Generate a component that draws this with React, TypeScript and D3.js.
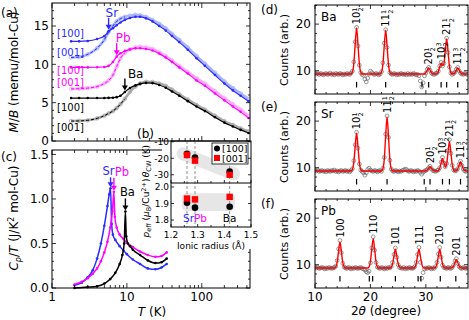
import React from 'react';
import * as d3 from 'd3';

const FONT = "'DejaVu Sans', sans-serif";
const BLUE = '#2b2bff';
const MAGENTA = '#ff00ff';

// (a) M/B vs T, H // [100] and [001]
const tempMB = [1.8, 2.3, 3, 4, 5, 5.7, 6.5, 7.3, 8.2, 9.4, 11, 13, 15, 18, 22, 27, 33, 40, 50, 65, 85, 110, 150, 200, 260, 330, 420];
const mbSr100 = [13.0, 13.0, 13.05, 13.3, 13.7, 14.3, 14.7, 15.1, 15.45, 15.8, 16.05, 16.2, 16.2, 16.0, 15.6, 15.0, 14.4, 13.7, 12.9, 11.9, 10.8, 9.8, 8.6, 7.5, 6.6, 5.9, 5.2];
const mbSr001 = [10.9, 10.95, 11.3, 12.1, 13.2, 14.2, 15.0, 15.6, 15.95, 16.2, 16.35, 16.45, 16.4, 16.2, 15.8, 15.3, 14.7, 14.0, 13.2, 12.2, 11.1, 10.1, 8.9, 7.8, 6.9, 6.2, 5.5];
const mbPb100 = [9.6, 9.6, 9.6, 9.62, 9.65, 9.8, 10.3, 11.0, 11.45, 11.75, 11.95, 12.1, 12.1, 12.0, 11.8, 11.4, 10.9, 10.3, 9.6, 8.8, 7.9, 7.2, 6.2, 5.3, 4.5, 3.8, 3.0];
const mbPb001 = [6.8, 6.82, 6.9, 7.1, 7.5, 7.9, 8.6, 9.7, 10.8, 11.5, 11.95, 12.2, 12.3, 12.2, 12.0, 11.6, 11.1, 10.5, 9.8, 9.0, 8.2, 7.5, 6.5, 5.6, 4.8, 4.1, 3.3];
const mbBa100 = [5.6, 5.6, 5.6, 5.6, 5.6, 5.62, 5.65, 5.72, 5.9, 6.4, 6.9, 7.25, 7.45, 7.58, 7.55, 7.3, 6.95, 6.45, 5.9, 5.2, 4.5, 3.9, 3.1, 2.4, 1.9, 1.45, 1.05];
const mbBa001 = [2.6, 2.62, 2.7, 2.95, 3.3, 3.6, 3.9, 4.3, 4.8, 5.5, 6.4, 7.1, 7.5, 7.72, 7.7, 7.5, 7.2, 6.7, 6.1, 5.4, 4.7, 4.1, 3.3, 2.6, 2.1, 1.65, 1.25];
const neelIndex = [5, 7, 9]; // Sr, Pb, Ba transition points in tempMB

// (c) Cp/T vs T
const cpSrT = [2, 2.5, 3, 3.5, 4, 4.5, 5, 5.5, 5.8, 6.05, 6.25, 6.5, 7, 8, 9, 10, 12, 15, 19, 24, 29, 34];
const cpSr = [0.03, 0.06, 0.12, 0.2, 0.33, 0.5, 0.7, 0.92, 1.05, 1.12, 0.72, 0.6, 0.54, 0.47, 0.42, 0.38, 0.32, 0.27, 0.22, 0.21, 0.23, 0.27];
const cpPbT = [2, 2.5, 3, 3.5, 4, 4.5, 5, 5.5, 6, 6.4, 6.7, 6.9, 7.3, 8, 9, 10, 12, 15, 19, 24, 29, 34];
const cpPb = [0.04, 0.07, 0.11, 0.16, 0.22, 0.3, 0.4, 0.52, 0.68, 0.86, 1.08, 0.8, 0.68, 0.6, 0.55, 0.51, 0.46, 0.41, 0.37, 0.35, 0.36, 0.4];
const cpBaT = [2, 3, 4, 5, 6, 7, 8, 8.7, 9.2, 9.55, 9.8, 10.3, 11, 12, 15, 19, 24, 29, 34];
const cpBa = [0.0, 0.01, 0.02, 0.05, 0.1, 0.17, 0.27, 0.37, 0.5, 0.86, 0.58, 0.5, 0.47, 0.43, 0.37, 0.31, 0.28, 0.29, 0.33];

// (b) inset
const ions = ['Sr', 'Pb', 'Ba'];
const ionicRadius = [1.26, 1.29, 1.42];
const thetaCW100 = [-17.3, -19.5, -28.1];
const thetaCW001 = [-18.0, -21.4, -30.0];
const peff100 = [1.905, 1.875, 1.88];
const peff001 = [1.93, 1.925, 1.94];

// (d)-(f) powder XRD, 2theta from 10 deg in 0.25 deg steps
const xrdBaObs = [
  9.5, 9.3, 9.4, 9.2, 9.4, 9.3, 9.1, 9.3, 9.4, 9.2, 9.3, 9.5, 9.2, 9.3, 9.1, 9.4, 9.3, 9.2, 9.4, 9.3, 9.1, 9.3, 9.2, 9.4, 9.3, 9.2, 9.5,
  9.9, 11.9, 16.2, 19.3, 15.3, 11.2, 9.6,
  9.2, 9.0, 8.2, 7.6, 8.4, 9.3, 9.9, 9.6, 9.3, 9.2, 9.4, 9.3, 9.1, 9.3,
  9.8, 11.7, 15.9, 18.8, 15.0, 11.2, 9.6,
  9.3, 9.2, 9.4, 9.3, 9.1, 9.3, 9.2, 9.4, 9.3, 9.2, 9.3, 9.1, 9.4, 9.2, 9.3, 9.2, 9.4, 9.3, 9.1, 9.2, 8.9, 7.8, 6.5, 7.4,
  8.9, 9.5, 10.3, 10.7, 10.1, 9.5, 9.3, 9.2, 9.4, 9.5, 9.9, 11.0, 11.8, 11.0, 11.6, 14.6, 17.0, 13.9, 10.8, 9.5, 9.2, 9.4, 9.7, 10.3, 10.7, 10.0, 9.5, 9.3,
  9.2, 9.4, 9.3, 9.2,
];
const xrdBaFit = [
  9.3, 9.3, 9.3, 9.3, 9.3, 9.3, 9.3, 9.3, 9.3, 9.3, 9.3, 9.3, 9.3, 9.3, 9.3, 9.3, 9.3, 9.3, 9.3, 9.3, 9.3, 9.3, 9.3, 9.3, 9.3, 9.3, 9.3,
  9.7, 11.5, 15.7, 19.2, 15.7, 11.5, 9.7,
  9.3, 9.3, 9.3, 9.3, 9.3, 9.3, 9.3, 9.3, 9.3, 9.3, 9.3, 9.3, 9.3, 9.3,
  9.7, 11.4, 15.4, 18.7, 15.4, 11.4, 9.7,
  9.3, 9.3, 9.3, 9.3, 9.3, 9.3, 9.3, 9.3, 9.3, 9.3, 9.3, 9.3, 9.3, 9.3, 9.3, 9.3, 9.3, 9.3, 9.3, 9.3, 9.3, 9.3, 9.3, 9.3,
  9.35, 9.6, 10.15, 10.6, 10.15, 9.6, 9.35, 9.3, 9.3, 9.4, 9.8, 10.8, 11.6, 11.1, 11.45, 14.3, 16.8, 14.2, 10.95, 9.6, 9.3, 9.35, 9.6, 10.15, 10.6, 10.15, 9.6, 9.35,
  9.3, 9.3, 9.3, 9.3,
];
const braggBa = [17.5, 22.75, 29.3, 30.5, 32.75, 33.75, 35.75];
const hklBa = ['10 1/2', '11 1/2', '20 1/2', '10 3/2', '21 1/2', '11 3/2'];
const hklBaAt = [17.5, 22.75, 30.5, 32.75, 33.75, 35.75];

const xrdSrObs = [
  9.4, 9.3, 9.5, 9.2, 9.3, 9.4, 9.2, 9.3, 9.1, 9.4, 9.3, 9.2, 9.4, 9.3, 9.5, 9.2, 9.3, 9.1, 9.3, 9.4, 9.2, 9.3, 9.4, 9.2, 9.3, 9.1, 9.4,
  9.8, 11.5, 14.9, 17.6, 14.2, 10.8, 9.5,
  9.2, 8.9, 8.4, 8.9, 9.6, 9.9, 9.5, 9.3, 9.2, 9.4, 9.3, 9.1, 9.3, 9.4, 9.2,
  9.9, 12.2, 17.2, 21.1, 16.5, 11.6, 9.7,
  9.3, 9.2, 9.4, 9.3, 9.1, 9.3, 9.2, 9.4, 9.5, 9.7, 9.6, 9.3, 9.2, 9.4, 9.3, 9.1, 9.3, 9.2, 9.4, 9.3, 9.0, 8.6, 9.0, 9.3,
  9.4, 9.6, 10.0, 10.3, 9.8, 9.4, 9.3,
  9.2, 9.4,
  9.5, 10.0, 11.2, 12.2, 11.0, 10.2, 10.9, 13.7, 16.0, 13.1, 10.5, 9.5,
  9.3,
  9.4, 9.8, 10.7, 11.4, 10.5, 9.7, 9.3,
  9.2, 9.4,
];
const xrdSrFit = [
  9.3, 9.3, 9.3, 9.3, 9.3, 9.3, 9.3, 9.3, 9.3, 9.3, 9.3, 9.3, 9.3, 9.3, 9.3, 9.3, 9.3, 9.3, 9.3, 9.3, 9.3, 9.3, 9.3, 9.3, 9.3, 9.3, 9.3,
  9.62, 11.08, 14.57, 17.4, 14.57, 11.08, 9.62,
  9.3, 9.3, 9.3, 9.3, 9.3, 9.3, 9.3, 9.3, 9.3, 9.3, 9.3, 9.3, 9.3, 9.3, 9.3,
  9.76, 11.85, 16.84, 20.9, 16.84, 11.85, 9.76,
  9.3, 9.3, 9.3, 9.3, 9.3, 9.3, 9.3, 9.3, 9.3, 9.3, 9.3, 9.3, 9.3, 9.3, 9.3, 9.3, 9.3, 9.3, 9.3, 9.3, 9.3, 9.3, 9.3, 9.3,
  9.34, 9.5, 9.89, 10.2, 9.89, 9.5, 9.34,
  9.3, 9.3,
  9.41, 9.89, 11.06, 12.0, 11.06, 10.14, 10.8, 13.4, 15.6, 13.4, 10.69, 9.55,
  9.3,
  9.38, 9.74, 10.6, 11.3, 10.6, 9.74, 9.38,
  9.3, 9.3,
];
const braggSr = [17.5, 23.0, 29.7, 30.75, 33.0, 34.25, 36.25];
const hklSr = ['10 1/2', '11 1/2', '20 1/2', '10 3/2', '21 1/2', '11 3/2'];
const hklSrAt = [17.5, 23.0, 30.75, 33.0, 34.25, 36.25];

const xrdPbObs = [
  9.5, 9.3, 9.4, 9.2, 9.3, 9.4, 9.3, 9.1, 9.3, 9.2, 9.4, 9.3, 9.2, 9.3, 9.4,
  9.7, 10.9, 13.4, 15.2, 12.6, 10.3, 9.5,
  9.3, 9.2, 9.4, 9.3, 9.1, 9.3, 9.2, 9.4, 9.3, 9.2, 9.3, 9.4, 9.2, 9.1, 8.9, 8.5, 8.3,
  8.6, 10.4, 13.6, 16.0, 13.1, 10.5, 9.5,
  9.3, 9.2, 9.4, 9.3, 9.1, 9.3, 9.2, 9.4, 9.3,
  9.6, 10.5, 12.2, 13.6, 11.6, 10.0, 9.4,
  9.3, 9.2, 9.4, 9.1, 9.3, 9.2, 9.4, 9.3, 9.2, 9.3,
  9.6, 10.5, 12.2, 13.7, 10.5, 7.1, 8.3,
  9.1, 9.3, 9.2, 9.4, 9.3, 9.1, 9.3, 9.2,
  9.6, 10.5, 12.3, 13.7, 11.6, 9.9, 9.4,
  9.3, 9.2, 9.4, 9.3, 9.2,
  9.4, 9.9, 10.8, 11.3, 10.3, 9.6, 9.3,
  9.2, 9.4, 9.3, 9.2, 9.3,
];
const xrdPbFit = [
  9.3, 9.3, 9.3, 9.3, 9.3, 9.3, 9.3, 9.3, 9.3, 9.3, 9.3, 9.3, 9.3, 9.3, 9.3,
  9.52, 10.53, 12.94, 14.9, 12.94, 10.53, 9.52,
  9.3, 9.3, 9.3, 9.3, 9.3, 9.3, 9.3, 9.3, 9.3, 9.3, 9.3, 9.3, 9.3, 9.3, 9.3, 9.3, 9.3,
  9.55, 10.69, 13.4, 15.6, 13.4, 10.69, 9.55,
  9.3, 9.3, 9.3, 9.3, 9.3, 9.3, 9.3, 9.3, 9.3,
  9.46, 10.18, 11.9, 13.3, 11.9, 10.18, 9.46,
  9.3, 9.3, 9.3, 9.3, 9.3, 9.3, 9.3, 9.3, 9.3, 9.3,
  9.46, 10.18, 11.9, 13.3, 11.9, 10.18, 9.46,
  9.3, 9.3, 9.3, 9.3, 9.3, 9.3, 9.3, 9.3,
  9.46, 10.18, 11.9, 13.3, 11.9, 10.18, 9.46,
  9.3, 9.3, 9.3, 9.3, 9.3,
  9.37, 9.7, 10.47, 11.1, 10.47, 9.7, 9.37,
  9.3, 9.3, 9.3, 9.3, 9.3,
];
const braggPb = [14.5, 19.8, 20.4, 24.5, 28.6, 29.1, 32.6, 35.4];
const hklPb = ['100', '110', '101', '111', '210', '201'];
const hklPbAt = [14.5, 20.5, 24.5, 28.75, 32.5, 35.5];

// scales
const xT = d3.scaleLog().domain([1, 440]).range([52, 250]);
const yMB = d3.scaleLinear().domain([0, 18]).range([141, 3]);
const yCp = d3.scaleLinear().domain([0, 1.55]).range([288, 150]);
const xR = d3.scaleLinear().domain([1.2, 1.5]).range([171, 251]);
const yTh = d3.scaleLinear().domain([-35, -9.5]).range([183, 141]);
const yPe = d3.scaleLinear().domain([1.758, 2.024]).range([227, 183]);
const xTT = d3.scaleLinear().domain([10, 37.6]).range([315, 468]);

function LogTicks({ y, dir }: any) {
  const ticks = xT.ticks().filter((t) => t <= 440);
  return (
    <g>
      {ticks.map((t) => {
        const major = Math.abs(Math.log10(t) - Math.round(Math.log10(t))) < 1e-6;
        return <line key={t} x1={xT(t)} x2={xT(t)} y1={y} y2={y + dir * (major ? 5 : 3)} stroke="#000" strokeWidth={0.8} />;
      })}
    </g>
  );
}

function YTicks({ scale, x1, x2, values, len }: any) {
  return (
    <g>
      {values.map((v: number) => (
        <g key={v}>
          <line x1={x1} x2={x1 + len} y1={scale(v)} y2={scale(v)} stroke="#000" strokeWidth={0.8} />
          <line x1={x2} x2={x2 - len} y1={scale(v)} y2={scale(v)} stroke="#000" strokeWidth={0.8} />
        </g>
      ))}
    </g>
  );
}

function Arrow({ x, tip, len, color }: any) {
  return (
    <g>
      <line x1={x} x2={x} y1={tip - len} y2={tip - 4} stroke={color} strokeWidth={1.4} />
      <path d={`M${x - 3},${tip - 5}L${x + 3},${tip - 5}L${x},${tip}Z`} fill={color} />
    </g>
  );
}

function MagPanel() {
  const series = [
    { a: mbSr100, b: mbSr001, dark: BLUE, light: '#aab4ff', name: 'Sr', lab: [14.0, 11.6] },
    { a: mbPb100, b: mbPb001, dark: MAGENTA, light: '#ffa6ff', name: 'Pb', lab: [9.2, 7.6] },
    { a: mbBa100, b: mbBa001, dark: '#000', light: '#aaaaaa', name: 'Ba', lab: [4.4, 1.7] },
  ];
  const line = (vals: number[]) =>
    d3.line<number>().x((_, i) => xT(tempMB[i])).y((v) => yMB(v)).curve(d3.curveMonotoneX)(vals) as string;
  const textDx = [-3, -1, 3];
  return (
    <g>
      {series.map((s) => (
        <g key={s.name + 'b'}>
          <path d={line(s.b)} fill="none" stroke={s.light} strokeWidth={2.6} />
          {s.b.map((v, i) => (
            <circle key={i} cx={xT(tempMB[i])} cy={yMB(v)} r={1.8} fill="none" stroke={s.light} strokeWidth={0.8} />
          ))}
        </g>
      ))}
      {series.map((s) => (
        <g key={s.name + 'a'}>
          <path d={line(s.a)} fill="none" stroke={s.dark} strokeWidth={1.2} />
          {s.a.map((v, i) => (
            <circle key={i} cx={xT(tempMB[i])} cy={yMB(v)} r={1.3} fill={s.dark} />
          ))}
          <path d={line(s.b.slice(0, 10))} fill="none" stroke={s.dark} strokeWidth={1} strokeDasharray="3 2" />
        </g>
      ))}
      {series.map((s, k) => {
        const idx = neelIndex[k];
        const x = xT(tempMB[idx]);
        const tip = yMB(s.a[idx]) - 1.5;
        return (
          <g key={s.name + 'arrow'}>
            <Arrow x={x} tip={tip} len={12} color={s.dark} />
            <text x={x + textDx[k]} y={tip - 17} dy="0.35em" fontSize={12} fill={s.dark}>{s.name}</text>
            <text x={57} y={yMB(s.lab[0])} dy="0.35em" fontSize={10} fill={s.dark}>[100]</text>
            <text x={57} y={yMB(s.lab[1])} dy="0.35em" fontSize={10} fill={s.dark}>[001]</text>
          </g>
        );
      })}
      <rect x={52} y={3} width={198} height={138} fill="none" stroke="#000" strokeWidth={1} />
      <LogTicks y={141} dir={-1} />
      <LogTicks y={3} dir={1} />
      <YTicks scale={yMB} x1={52} x2={250} values={[0, 5, 10, 15]} len={4} />
      <YTicks scale={yMB} x1={52} x2={250} values={d3.range(1, 18).filter((v) => v % 5 !== 0)} len={2} />
      {[0, 5, 10, 15].map((v) => (
        <text key={v} x={49} y={yMB(v)} dy="0.36em" textAnchor="end" fontSize={12}>{v}</text>
      ))}
      <text x={1} y={17} fontSize={12}>(a)</text>
      <text transform="translate(18,72) rotate(-90)" textAnchor="middle" fontSize={12}>
        <tspan fontStyle="italic">M</tspan>/<tspan fontStyle="italic">B</tspan> (memu/mol-Cu)
      </text>
    </g>
  );
}

function HeatPanel() {
  const series = [
    { t: cpSrT, v: cpSr, color: BLUE, name: 'Sr', dx: 4, anchor: 'end', len: 10 },
    { t: cpPbT, v: cpPb, color: MAGENTA, name: 'Pb', dx: 1, anchor: 'start', len: 13 },
    { t: cpBaT, v: cpBa, color: '#000', name: 'Ba', dx: 2, anchor: 'middle', len: 12 },
  ];
  return (
    <g>
      <rect x={52} y={150} width={198} height={138} fill="none" stroke="#000" strokeWidth={1} />
      {series.map((s) => {
        const path = d3.line<number>().x((_, i) => xT(s.t[i])).y((v) => yCp(v)).curve(d3.curveMonotoneX)(s.v) as string;
        const peak = d3.maxIndex(s.v);
        const x = xT(s.t[peak]);
        const tip = yCp(s.v[peak]) - 1;
        return (
          <g key={s.name}>
            <path d={path} fill="none" stroke={s.color} strokeWidth={1.5} />
            {s.v.map((v, i) => (
              <circle key={i} cx={xT(s.t[i])} cy={yCp(v)} r={1.3} fill={s.color} />
            ))}
            <Arrow x={x} tip={tip} len={s.len} color={s.color} />
            <text x={x + s.dx} y={tip - s.len - 6} dy="0.35em" textAnchor={s.anchor} fontSize={11.5} fill={s.color}>{s.name}</text>
          </g>
        );
      })}
      <LogTicks y={288} dir={-1} />
      <LogTicks y={150} dir={1} />
      <YTicks scale={yCp} x1={52} x2={250} values={[0, 0.5, 1, 1.5]} len={4} />
      <YTicks scale={yCp} x1={52} x2={250} values={d3.range(1, 15).filter((v) => v % 5 !== 0).map((v) => v / 10)} len={2} />
      {[0, 0.5, 1, 1.5].map((v) => (
        <text key={v} x={49} y={yCp(v)} dy="0.36em" textAnchor="end" fontSize={12}>{v.toFixed(1)}</text>
      ))}
      {[1, 10, 100].map((v) => (
        <text key={v} x={xT(v)} y={301} textAnchor="middle" fontSize={12}>{v}</text>
      ))}
      <text x={152} y={316} textAnchor="middle" fontSize={12}>
        <tspan fontStyle="italic">T</tspan> (K)
      </text>
      <text x={1} y={161} fontSize={12}>(c)</text>
      <text transform="translate(18,218) rotate(-90)" textAnchor="middle" fontSize={12}>
        <tspan fontStyle="italic">C</tspan>
        <tspan fontSize={8} dy={3} fontStyle="italic">p</tspan>
        <tspan dy={-3}>/</tspan>
        <tspan fontStyle="italic">T</tspan> (J/K
        <tspan fontSize={8} dy={-4}>2</tspan>
        <tspan dy={4}> mol-Cu)</tspan>
      </text>
    </g>
  );
}

function Inset() {
  const ionColor = [BLUE, MAGENTA, '#000'];
  const mid = (xR(ionicRadius[0]) + xR(ionicRadius[1])) / 2 + 3;
  return (
    <g>
      <rect x={162} y={142} width={94} height={107} fill="#fff" />
      <line x1={xR(1.245)} y1={yTh(-17.2)} x2={xR(1.435)} y2={yTh(-29.4)} stroke="#e6e6e6" strokeWidth={13} strokeLinecap="round" />
      <rect x={xR(1.24)} y={yPe(1.962)} width={xR(1.44) - xR(1.24)} height={yPe(1.855) - yPe(1.962)} rx={5} fill="#e6e6e6" />
      {ionicRadius.map((r) => (
        <line key={r} x1={xR(r)} x2={xR(r)} y1={141} y2={227} stroke="#777" strokeWidth={0.8} strokeDasharray="3 2" />
      ))}
      {ionicRadius.map((r, i) => (
        <g key={'p' + r}>
          <circle cx={xR(r)} cy={yTh(thetaCW100[i])} r={3.3} fill="#000" />
          <rect x={xR(r) - 3.2} y={yTh(thetaCW001[i]) - 3.2} width={6.4} height={6.4} fill="#ff0000" />
          <circle cx={xR(r)} cy={yPe(peff100[i])} r={3.3} fill="#000" />
          <rect x={xR(r) - 3.2} y={yPe(peff001[i]) - 3.2} width={6.4} height={6.4} fill="#ff0000" />
        </g>
      ))}
      <rect x={171} y={141} width={80} height={86} fill="none" stroke="#000" strokeWidth={1} />
      <line x1={171} x2={251} y1={183} y2={183} stroke="#000" strokeWidth={1} />
      <YTicks scale={yTh} x1={171} x2={251} values={[-10, -20, -30]} len={3} />
      <YTicks scale={yPe} x1={171} x2={251} values={[1.8, 1.9, 2.0]} len={3} />
      {[1.2, 1.25, 1.3, 1.35, 1.4, 1.45, 1.5].map((v, i) => (
        <g key={v}>
          <line x1={xR(v)} x2={xR(v)} y1={227} y2={227 - (i % 2 ? 2 : 3)} stroke="#000" strokeWidth={0.8} />
          <line x1={xR(v)} x2={xR(v)} y1={183} y2={183 - (i % 2 ? 2 : 3)} stroke="#000" strokeWidth={0.8} />
        </g>
      ))}
      {[-10, -20, -30].map((v) => (
        <text key={v} x={169} y={yTh(v)} dy="0.36em" textAnchor="end" fontSize={9}>{v}</text>
      ))}
      {[1.8, 1.9, 2.0].map((v) => (
        <text key={v} x={169} y={yPe(v)} dy="0.36em" textAnchor="end" fontSize={9}>{v.toFixed(1)}</text>
      ))}
      {[1.2, 1.3, 1.4, 1.5].map((v) => (
        <text key={v} x={xR(v)} y={238} textAnchor="middle" fontSize={9}>{v.toFixed(1)}</text>
      ))}
      <text x={211} y={249} textAnchor="middle" fontSize={9}>Ionic radius (Å)</text>
      <text x={mid} y={222} textAnchor="end" fontSize={10.5} fill={ionColor[0]}>{ions[0]}</text>
      <text x={mid} y={222} textAnchor="start" fontSize={10.5} fill={ionColor[1]}>{ions[1]}</text>
      <text x={xR(ionicRadius[2])} y={222} textAnchor="middle" fontSize={10.5} fill={ionColor[2]}>{ions[2]}</text>
      <rect x={212} y={143} width={36} height={21} fill="#fff" stroke="#000" strokeWidth={0.8} />
      <circle cx={217} cy={148.5} r={3} fill="#000" />
      <text x={222} y={152} fontSize={9.5}>[100]</text>
      <rect x={214} y={155} width={6} height={6} fill="#ff0000" />
      <text x={222} y={162} fontSize={9.5}>[001]</text>
      <text x={137} y={138} fontSize={12}>(b)</text>
      <text transform="translate(149,161) rotate(-90)" textAnchor="middle" fontSize={9}>
        <tspan fontStyle="italic">θ</tspan>
        <tspan fontSize={6.5} dy={2}>CW</tspan>
        <tspan dy={-2}> (K)</tspan>
      </text>
      <text transform="translate(149,208) rotate(-90)" textAnchor="middle" fontSize={9}>
        <tspan fontStyle="italic">p</tspan>
        <tspan fontSize={6.5} dy={2}>eff</tspan>
        <tspan dy={-2}> (</tspan>
        <tspan fontStyle="italic">μ</tspan>
        <tspan fontSize={6.5} dy={2}>B</tspan>
        <tspan dy={-2}>/Cu</tspan>
        <tspan fontSize={6.5} dy={-3}>2+</tspan>
        <tspan dy={3}>)</tspan>
      </text>
    </g>
  );
}

function HklLabel({ x, y, label }: any) {
  const [base, frac] = label.split(' ');
  const [num, den] = frac ? frac.split('/') : ['', ''];
  return (
    <text transform={`translate(${x},${y}) rotate(-90)`} dy="0.36em" fontSize={10}>
      {base}
      {frac ? (
        <>
          <tspan fontSize={6.5} dy="-0.5em">{num}</tspan>
          <tspan fontSize={6.5} dx="-0.62em" dy="1em">{den}</tspan>
        </>
      ) : null}
    </text>
  );
}

function XrdPanel({ top, obs, fit, bragg, hkl, hklAt, name, letter, last }: any) {
  const y = d3.scaleLinear().domain([5, 24.1]).range([top + 89, top]);
  const tt = obs.map((_: number, i: number) => 10 + 0.25 * i);
  const fitPath = d3.line<number>().x((_, i) => xTT(tt[i])).y((v) => y(v)).curve(d3.curveMonotoneX)(fit) as string;
  const clipId = 'clip-' + letter;
  return (
    <g>
      <clipPath id={clipId}>
        <rect x={315} y={top} width={153} height={89} />
      </clipPath>
      <g clipPath={`url(#${clipId})`}>
        {obs.map((v: number, i: number) => (
          <circle key={i} cx={xTT(tt[i])} cy={y(v)} r={1.9} fill="none" stroke="#555" strokeWidth={0.6} />
        ))}
        <path d={fitPath} fill="none" stroke="#ff0000" strokeWidth={1.4} />
        {bragg.map((b: number) => (
          <line key={b} x1={xTT(b)} x2={xTT(b)} y1={y(7.6)} y2={y(6.4)} stroke="#000" strokeWidth={1.2} />
        ))}
      </g>
      {hkl.map((h: string, k: number) => {
        const idx = Math.round((hklAt[k] - 10) / 0.25);
        const topV = Math.max(obs[idx], fit[idx]);
        return <HklLabel key={h + k} x={xTT(hklAt[k])} y={y(topV) - 3} label={h} />;
      })}
      <rect x={315} y={top} width={153} height={89} fill="none" stroke="#000" strokeWidth={1} />
      {d3.range(10, 38, 2).map((v) => (
        <g key={v}>
          <line x1={xTT(v)} x2={xTT(v)} y1={top + 89} y2={top + 89 - (v % 10 === 0 ? 4 : 2)} stroke="#000" strokeWidth={0.8} />
          <line x1={xTT(v)} x2={xTT(v)} y1={top} y2={top + (v % 10 === 0 ? 4 : 2)} stroke="#000" strokeWidth={0.8} />
        </g>
      ))}
      <YTicks scale={y} x1={315} x2={468} values={[10, 20]} len={4} />
      <YTicks scale={y} x1={315} x2={468} values={[6, 8, 12, 14, 16, 18, 22, 24]} len={2} />
      {[10, 20].map((v) => (
        <text key={v} x={311} y={y(v)} dy="0.36em" textAnchor="end" fontSize={12}>{v}</text>
      ))}
      <text x={321} y={top + 16} fontSize={12}>{name}</text>
      <text x={261} y={top + 9} fontSize={12}>({letter})</text>
      <text transform={`translate(288,${top + 45}) rotate(-90)`} textAnchor="middle" fontSize={11}>Counts (arb.)</text>
      {last ? (
        <g>
          {[10, 20, 30].map((v) => (
            <text key={v} x={xTT(v)} y={top + 102} textAnchor="middle" fontSize={12}>{v}</text>
          ))}
          <text x={386} y={top + 116} textAnchor="middle" fontSize={12}>
            2<tspan fontStyle="italic">θ</tspan> (degree)
          </text>
        </g>
      ) : null}
    </g>
  );
}

export default function App() {
  return (
    <svg width={469} height={320} style={{ position: 'absolute', left: 0, top: 0, background: '#fff' }} fontFamily={FONT}>
      <rect width={469} height={320} fill="#fff" />
      <HeatPanel />
      <MagPanel />
      <Inset />
      <XrdPanel top={5} obs={xrdBaObs} fit={xrdBaFit} bragg={braggBa} hkl={hklBa} hklAt={hklBaAt} name="Ba" letter="d" />
      <XrdPanel top={102} obs={xrdSrObs} fit={xrdSrFit} bragg={braggSr} hkl={hklSr} hklAt={hklSrAt} name="Sr" letter="e" />
      <XrdPanel top={199} obs={xrdPbObs} fit={xrdPbFit} bragg={braggPb} hkl={hklPb} hklAt={hklPbAt} name="Pb" letter="f" last />
    </svg>
  );
}
